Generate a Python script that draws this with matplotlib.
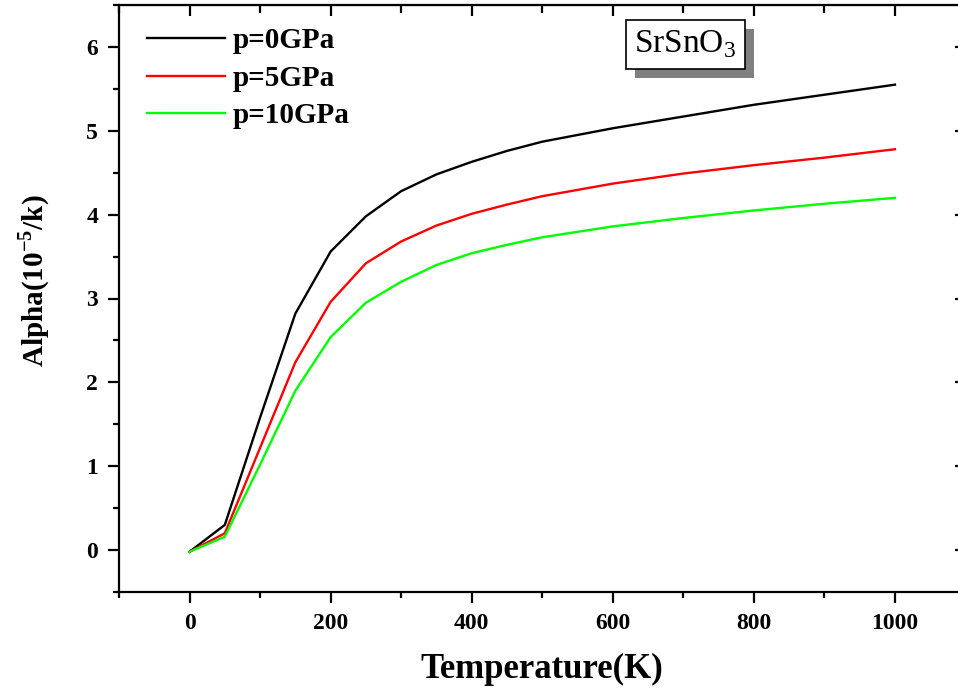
import matplotlib
matplotlib.use("Agg")
import matplotlib.pyplot as plt
from matplotlib.ticker import MultipleLocator
import matplotlib.patheffects as pe

plt.rcParams['font.family'] = ['Liberation Serif', 'DejaVu Serif']
plt.rcParams['mathtext.fontset'] = 'custom'
plt.rcParams['mathtext.rm'] = 'Liberation Serif'
plt.rcParams['mathtext.bf'] = 'Liberation Serif:bold'

# temperature (K) and thermal expansion (10^-5 /K)
temp = [0, 50, 100, 150, 200, 250, 300, 350, 400, 450, 500, 600, 700, 800, 900, 1000]
alpha_0 = [-0.02, 0.30, 1.58, 2.82, 3.56, 3.98, 4.28, 4.48, 4.63, 4.76, 4.87, 5.03, 5.17, 5.31, 5.43, 5.55]
alpha_5 = [-0.02, 0.20, 1.22, 2.24, 2.96, 3.42, 3.68, 3.87, 4.01, 4.12, 4.22, 4.37, 4.49, 4.59, 4.68, 4.78]
alpha_10 = [-0.02, 0.16, 1.02, 1.90, 2.54, 2.95, 3.20, 3.40, 3.54, 3.64, 3.73, 3.86, 3.96, 4.05, 4.13, 4.20]
labels = ["p=0GPa", "p=5GPa", "p=10GPa"]
colors = ["black", "#ff0000", "#00ff00"]

fig = plt.figure(figsize=(9.58, 6.89), dpi=100)
ax = fig.add_axes([119/958, 97/689, 846.5/958, 587/689])

for ys, lab, c in zip([alpha_0, alpha_5, alpha_10], labels, colors):
    ax.plot(temp, ys, color=c, lw=1.7, label=lab)

ax.set_xlim(-100, 1100)
ax.set_ylim(-0.5, 6.5)
ax.xaxis.set_major_locator(MultipleLocator(200))
ax.xaxis.set_minor_locator(MultipleLocator(100))
ax.yaxis.set_major_locator(MultipleLocator(1))
ax.yaxis.set_minor_locator(MultipleLocator(0.5))
ax.set_xticks([0, 200, 400, 600, 800, 1000])

for s in ax.spines.values():
    s.set_linewidth(1.6)
ax.tick_params(which='major', direction='out', length=8, width=1.6, pad=7, labelsize=17)
ax.tick_params(which='minor', direction='out', length=4.5, width=1.6)
for t in ax.get_xticklabels() + ax.get_yticklabels():
    t.set_fontweight('bold')

# mirrored ticks, pointing inward
top = ax.secondary_xaxis('top')
top.xaxis.set_major_locator(MultipleLocator(200))
top.xaxis.set_minor_locator(MultipleLocator(100))
top.tick_params(which='major', direction='in', length=8, width=1.6, labeltop=False)
top.tick_params(which='minor', direction='in', length=6, width=1.6)
right = ax.secondary_yaxis('right')
right.yaxis.set_major_locator(MultipleLocator(1))
right.tick_params(which='major', direction='in', length=8, width=1.6, labelright=False)
right.tick_params(which='minor', length=0)

ax.set_xlabel("Temperature(K)", fontsize=25, fontweight='bold', labelpad=14)
ax.set_ylabel(r"Alpha(10$^{\mathbf{-5}}$/k)", fontsize=21, fontweight='bold')
ax.yaxis.set_label_coords(-0.079, 0.531)

leg = ax.legend(loc='upper left', bbox_to_anchor=(0.033, 0.962), frameon=False,
                prop={'size': 21, 'weight': 'bold'}, handlelength=2.67,
                handletextpad=0.27, labelspacing=0.36, borderpad=0, borderaxespad=0)

txt = ax.text(703, 6.03, r"SrSnO$_3$", fontsize=24, ha='center', va='center',
              bbox=dict(boxstyle='square,pad=0.25', fc='white', ec='black', lw=1.2))
txt.get_bbox_patch().set_path_effects([
    pe.SimplePatchShadow(offset=(6.5, -6.5), shadow_rgbFace='#808080', alpha=1.0),
    pe.Normal()])

fig.savefig("out.png", dpi=100)
